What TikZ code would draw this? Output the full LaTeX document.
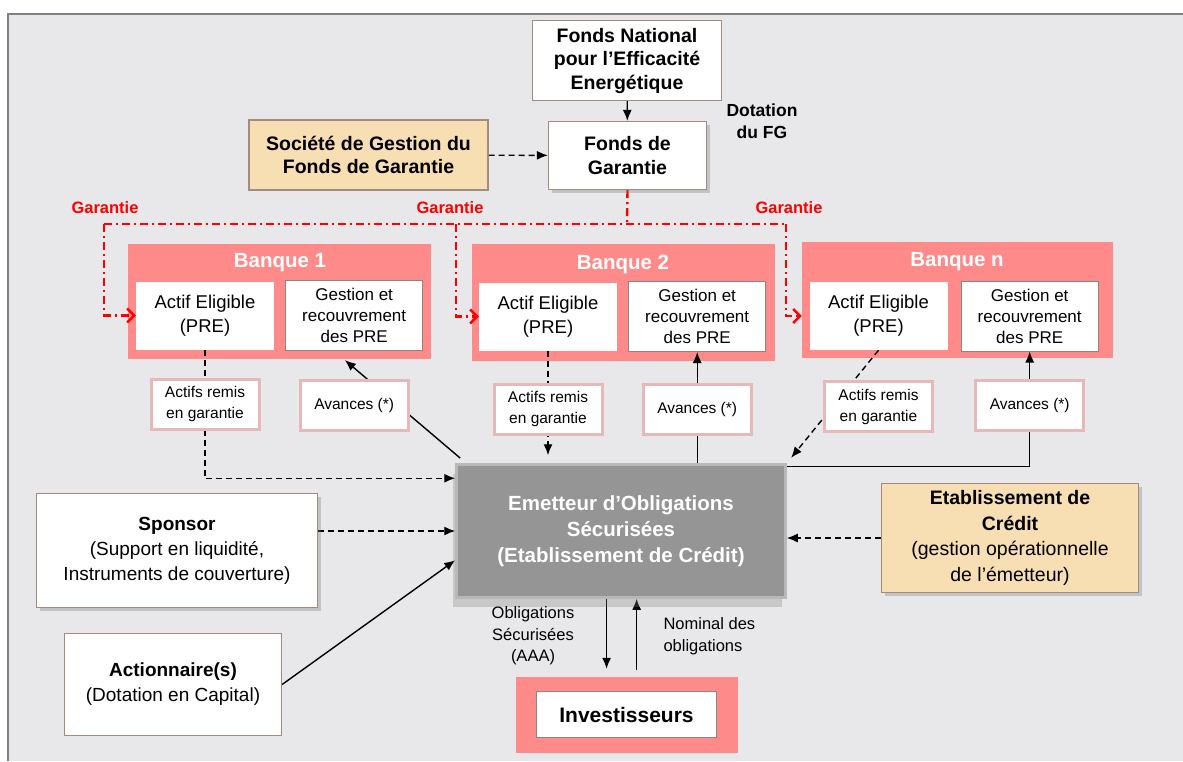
\documentclass[tikz,border=0pt]{standalone}
\usepackage{fontspec}
\setmainfont{Liberation Sans}
\usetikzlibrary{positioning,arrows.meta,shadows}
\definecolor{bggray}{HTML}{E8E8EA}
\definecolor{framegray}{HTML}{7F7F85}
\definecolor{boxbrown}{HTML}{A68B7C}
\definecolor{tanfill}{HTML}{F7DFB3}
\definecolor{bankpink}{HTML}{FF8A8A}
\definecolor{flowpink}{HTML}{E6B9B8}
\definecolor{gestgray}{HTML}{8C8680}
\definecolor{emetgray}{HTML}{959595}
\definecolor{bevelgray}{HTML}{B8B8B8}
\definecolor{garred}{HTML}{FF0000}
\pgfdeclarelayer{bg}
\pgfdeclarelayer{banks}
\pgfdeclarelayer{lines}
\pgfsetlayers{bg,banks,lines,main}

\begin{document}
\begin{tikzpicture}[x=1pt,y=-1pt,
  box/.style={draw=boxbrown,line width=1.2pt,fill=white,align=center,inner sep=0pt},
  shadowed/.style={drop shadow={shadow xshift=3pt,shadow yshift=-3pt,opacity=0.35}},
  bigfont/.style={font=\fontsize{19.5}{23.5}\selectfont\bfseries},
  bankbox/.style={fill=bankpink,inner sep=0pt},
  banktitle/.style={text=white,font=\fontsize{20.5}{24}\selectfont\bfseries},
  actifbox/.style={fill=white,align=center,inner sep=0pt,minimum width=138pt,minimum height=68pt,font=\fontsize{18.5}{24}\selectfont},
  gestbox/.style={draw=gestgray,line width=1pt,fill=white,align=center,inner sep=0pt,minimum width=137pt,minimum height=70pt,font=\fontsize{17}{21}\selectfont},
  flowbox/.style={draw=flowpink,line width=3pt,fill=white,align=center,inner sep=0pt,minimum width=108pt,minimum height=50pt,font=\fontsize{15.5}{21}\selectfont},
  garlabel/.style={text=garred,font=\fontsize{16.5}{20}\selectfont\bfseries},
  garline/.style={draw=garred,line width=2.4pt,dash pattern=on 8pt off 4pt on 2pt off 4pt},
  gartip/.style={-{Straight Barb[length=7pt,width=14pt,line width=2.4pt]}},
  flowarrow/.style={line width=1.4pt,-{Latex[length=11pt,width=9pt]}},
  flowdash/.style={flowarrow,dash pattern=on 6pt off 4pt},
  textfont/.style={font=\fontsize{16.5}{21.5}\selectfont}]
\useasboundingbox (0,0) rectangle (1183,761);
%the frame
\begin{pgfonlayer}{bg}
\fill[white] (0,0) rectangle (1183,761);
\fill[bggray] (8,14) rectangle (1183,761);
\draw[framegray,line width=1.2pt] (8,761) -- (8,14) -- (1183,14);
\end{pgfonlayer}

%the funds at the top
\node[box,bigfont,minimum width=189pt,minimum height=80pt] (fnee) at (627,60.5) {Fonds National\\pour l’Efficacité\\Energétique};
\node[box,bigfont,shadowed,minimum width=158pt,minimum height=68pt] (fdg) at (627.5,155.5) {Fonds de\\Garantie};
\node[box,bigfont,fill=tanfill,minimum width=239pt,minimum height=70pt] (sgfg) at (368.5,155) {Société de Gestion du\\Fonds de Garantie};
\node[align=center,font=\fontsize{17.5}{21.5}\selectfont\bfseries] (dotation) at (762,121) {Dotation\\du FG};
\node[garlabel] (gar1) at (105,208) {Garantie};
\node[garlabel] (gar2) at (450,208) {Garantie};
\node[garlabel] (gar3) at (789,208) {Garantie};
\coordinate (garc) at (627,224);
\coordinate (garl) at (104,224);
\coordinate (garm) at (456,224);
\coordinate (garr) at (786,224);

%the banks
\begin{pgfonlayer}{banks}
\node[bankbox,minimum width=303pt,minimum height=115pt] (bank1) at (279.5,301.5) {};
\node[bankbox,minimum width=303pt,minimum height=117pt] (bank2) at (623.5,302.5) {};
\node[bankbox,minimum width=311pt,minimum height=116pt] (bankn) at (957.5,300) {};
\node[bankbox,minimum width=222pt,minimum height=76pt] (investouter) at (627,715) {};
\end{pgfonlayer}
\node[banktitle] (title1) at (280,263) {Banque 1};
\node[actifbox] (actif1) at (205,315.5) {Actif Eligible\\(PRE)};
\node[gestbox,right=11pt of actif1] (gestion1) {Gestion et\\recouvrement\\des PRE};
\node[banktitle] (title2) at (623,264) {Banque 2};
\node[actifbox] (actif2) at (548,316.5) {Actif Eligible\\(PRE)};
\node[gestbox,right=11pt of actif2] (gestion2) {Gestion et\\recouvrement\\des PRE};
\node[banktitle] (titlen) at (957,262) {Banque n};
\node[actifbox] (actifn) at (878.5,316) {Actif Eligible\\(PRE)};
\node[gestbox,right=13pt of actifn] (gestionn) {Gestion et\\recouvrement\\des PRE};

%the flows under the banks
\node[flowbox,below=28pt of actif1] (remis1) {Actifs remis\\en garantie};
\node[flowbox,below=28pt of gestion1] (avances1) {Avances (*)};
\node[flowbox,below=32pt of actif2] (remis2) {Actifs remis\\en garantie};
\node[flowbox,below=31pt of gestion2] (avances2) {Avances (*)};
\node[flowbox,below=30pt of actifn] (remisn) {Actifs remis\\en garantie};
\node[flowbox,below=27pt of gestionn] (avancesn) {Avances (*)};

%the issuer and the parties round it
\node[fill=emetgray,draw=bevelgray,line width=2.5pt,text=white,align=center,inner sep=0pt,
  minimum width=329pt,minimum height=133pt,font=\fontsize{20.5}{26}\selectfont\bfseries,
  drop shadow={shadow xshift=-4pt,shadow yshift=-9pt,opacity=0.3}] (emet) at (621,531) {Emetteur d’Obligations\\Sécurisées\\(Etablissement de Crédit)};
\node[box,shadowed,minimum width=281pt,minimum height=114pt,font=\fontsize{19}{25}\selectfont] (sponsor) at (177,550.5) {\textbf{Sponsor}\\(Support en liquidité,\\Instruments de couverture)};
\node[box,minimum width=217pt,minimum height=102pt,font=\fontsize{19}{25}\selectfont] (actionnaire) at (173,684.5) {\textbf{Actionnaire(s)}\\(Dotation en Capital)};
\node[box,fill=tanfill,shadowed,minimum width=257pt,minimum height=109pt,font=\fontsize{19.5}{25.5}\selectfont] (etab) at (1010,538) {\textbf{Etablissement de}\\\textbf{Crédit}\\(gestion opérationnelle\\de l’émetteur)};
\node[draw=gestgray,line width=1.2pt,fill=white,inner sep=0pt,minimum width=180pt,minimum height=46pt,font=\fontsize{21}{25}\selectfont\bfseries] (invest) at (626.5,714.5) {Investisseurs};
\node[textfont,align=center] (bondsout) at (533,636) {Obligations\\Sécurisées\\(AAA)};
\node[textfont,align=left,anchor=west] (nominal) at (660,636) {Nominal des\\obligations};

%the connectors
\begin{pgfonlayer}{lines}
\draw[flowarrow] (fnee) -- (fdg);
\draw[flowdash] (sgfg) -- (fdg);
\draw[garline] (fdg.south) -- (garc);
\draw[garline] (garl) -- (garr);
\draw[garline,gartip] (garl) |- (actif1.west);
\draw[garline,gartip] (garm) |- (actif2.west);
\draw[garline,gartip] (garr) |- (bankn.west |- actifn.west);
\draw[flowdash] (actif1.south) |- ([yshift=-15pt]emet.north west);
\draw[flowarrow,shorten <=8pt,shorten >=14pt] ([xshift=11pt]emet.north west) -- ([xshift=-20pt]gestion1.south);
\draw[flowdash,shorten >=8pt] (actif2.south) -- (actif2.south |- emet.north);
\draw[flowarrow] (emet.north -| gestion2.south) -- (gestion2.south);
\draw[flowdash,shorten >=7pt] (actifn.south) -- (emet.north east);
\draw[flowarrow] ([yshift=-3pt]emet.north east) -| (gestionn.south);
\draw[flowdash] (sponsor.east |- emet.west) -- (emet.west);
\draw[flowarrow] (actionnaire.east) -- (emet.190);
\draw[flowdash] (etab.west) -- (etab.west -| emet.east);
\draw[flowarrow,shorten >=8pt] (emet.258) -- (emet.258 |- investouter.north);
\draw[flowarrow,shorten <=7pt] (emet.283 |- investouter.north) -- (emet.283);
\end{pgfonlayer}
\end{tikzpicture}
\end{document}
